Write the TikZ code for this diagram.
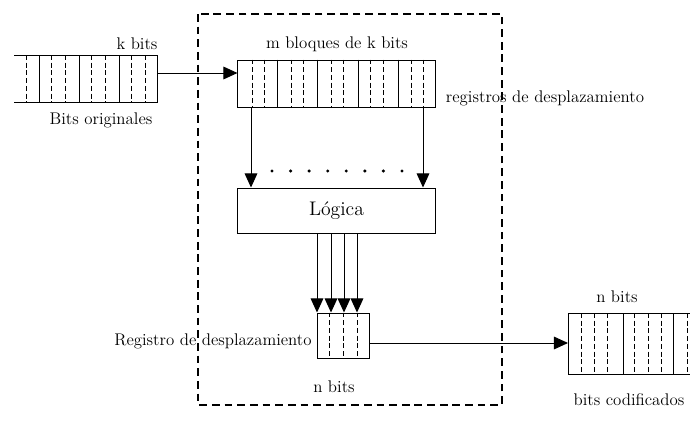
\documentclass[tikz,border=0pt]{standalone}
\usetikzlibrary{arrows.meta}
\tikzset{
	solida/.style={line width=0.7pt},
	bitline/.style={line width=0.7pt, dash pattern=on 3.5pt off 2pt},
	marco/.style={line width=1pt, dash pattern=on 5.5pt off 3.5pt},
	caja/.style={draw, line width=0.7pt, inner sep=0pt, minimum height=1.125cm},
	etiqueta/.style={font=\fontsize{12}{14}\selectfont, inner sep=0pt},
}
\begin{document}
\begin{tikzpicture}[x=0.025cm, y=-0.025cm, line join=miter, >={Triangle[length=10pt,width=9pt]}]
	\useasboundingbox (0,0) rectangle (690,421);
	\path (157,73) coordinate (orig)
		(568,343) coordinate (cod);
	\draw[marco] (198,14) rectangle (502,405);
	\draw[solida] (14,55) -- (157,55) -- (157,102) -- (14,102);
	\foreach \x in {39,79,119} \draw[solida] (\x,55) -- (\x,102);
	\foreach \x in {26,51,65,91,105,131,145} \draw[bitline] (\x,55) -- (\x,102);
	\node[caja, minimum width=4.925cm, minimum height=1.175cm] (mreg) at (336.5,83.5) {};
	\foreach \x in {277,317,358,398} \draw[solida] (\x,0 |- mreg.north) -- (\x,0 |- mreg.south);
	\foreach \x in {252,264,291,303,331,343,370,383,411,423} \draw[bitline] (\x,0 |- mreg.north) -- (\x,0 |- mreg.south);
	\node[caja, minimum width=4.925cm] (logica) at (336.5,210.5) {\fontsize{14}{16}\selectfont Lógica};
	\node[caja, minimum width=1.3cm] (sreg) at (343,335.5) {};
	\foreach \x in {329,343,357} \draw[bitline] (\x,0 |- sreg.north) -- (\x,0 |- sreg.south);
	\draw[solida] (690,313) -- (568,313) -- (568,374) -- (690,374);
	\foreach \x in {623,673} \draw[solida] (\x,313) -- (\x,374);
	\foreach \x in {581,594,607,634,648,661,687} \draw[bitline] (\x,313) -- (\x,374);
	\draw[solida, ->] (orig) -- (orig -| mreg.west);
	\foreach \x in {251,423} \draw[solida, ->] (\x,0 |- mreg.south) -- (\x,0 |- logica.north);
	\foreach \x in {272,290.6,309.1,327.7,346.3,364.9,383.4,402} \fill (\x,171) circle (1.2pt);
	\foreach \x in {317,331,344,357} \draw[solida, ->] (\x,0 |- logica.south) -- (\x,0 |- sreg.north);
	\draw[solida, ->] (sreg.east |- cod) -- (cod);
	\node[etiqueta] (kbits) at (137,44) {k bits};
	\node[etiqueta] (originales) at (101,120) {Bits originales};
	\node[etiqueta] (mbloques) at (337,44) {m bloques de k bits};
	\node[etiqueta] (registros) at (545,98) {registros de desplazamiento};
	\node[etiqueta] (registro) at (213,341) {Registro de desplazamiento};
	\node[etiqueta] (nbits) at (334,387) {n bits};
	\node[etiqueta] (nbitscod) at (617,297) {n bits};
	\node[etiqueta] (codificados) at (629,400) {bits codificados};
\end{tikzpicture}
\end{document}
